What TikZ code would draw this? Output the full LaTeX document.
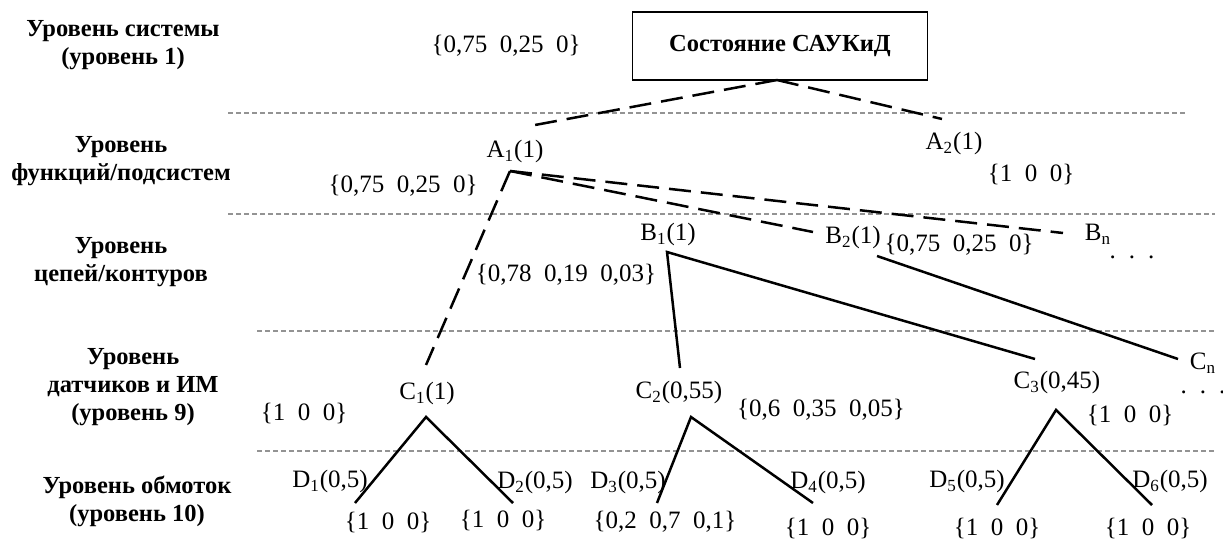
\documentclass[tikz,border=0pt]{standalone}
\usepackage{fontspec}
\setmainfont{Liberation Serif}
\newcommand\lsub[1]{\raisebox{-0.35ex}{\fontsize{17}{17}\selectfont #1}\kern1pt}
\begin{document}
\begin{tikzpicture}[x=1pt,y=-1pt,
  lvl/.style={font=\bfseries\fontsize{24.5}{28}\selectfont, align=center, inner sep=0pt},
  lbl/.style={font=\fontsize{25}{28}\selectfont, inner sep=0pt},
  sepline/.style={gray!85, line width=2pt, dash pattern=on 5pt off 3pt},
  dlink/.style={line width=2.5pt, dash pattern=on 22pt off 10pt},
  slink/.style={line width=2.5pt},
  rootbox/.style={draw, line width=1.2pt, minimum width=295pt, minimum height=68pt, font=\bfseries\fontsize{24.5}{28}\selectfont}
]
\useasboundingbox (0,0) rectangle (1223,548);

% level labels
\node[lvl] (L1) at (123,45) {Уровень системы\\(уровень 1)};
\node[lvl] (L2) at (121,161) {Уровень\\функций/подсистем};
\node[lvl] (L3) at (121,262) {Уровень\\цепей/контуров};
\node[lvl] (L4) at (133,387) {Уровень\\датчиков и ИМ\\(уровень 9)};
\node[lvl] (L5) at (137,501) {Уровень обмоток\\(уровень 10)};

% separators
\coordinate (s1a) at (228,113); \coordinate (s1b) at (1185,113);
\coordinate (s2a) at (228,214); \coordinate (s2b) at (1215,214);
\coordinate (s3a) at (257,331); \coordinate (s3b) at (1215,331);
\coordinate (s4a) at (257,451); \coordinate (s4b) at (1215,451);
\draw[sepline] (s1a) -- (s1b);
\draw[sepline] (s2a) -- (s2b);
\draw[sepline] (s3a) -- (s3b);
\draw[sepline] (s4a) -- (s4b);

% root
\node[rootbox] (root) at (780,46) {Состояние САУКиД};
\node[lbl] (p0) at (506,46) {\{0,75\ \ 0,25\ \ 0\}};

% coordinates of connector ends
\coordinate (s0) at (777,80);
\coordinate (a1t) at (535,125);
\coordinate (a2t) at (942,119);
\coordinate (a1) at (510,171);
\coordinate (c1t) at (426,365);
\coordinate (b2e) at (813,232);
\coordinate (bne) at (1063,233);
\coordinate (b1) at (667,252);
\coordinate (c2t) at (680,368);
\coordinate (c3t) at (1035,359);
\coordinate (b2) at (877,256);
\coordinate (cnt) at (1178,359);
\coordinate (c1) at (426,417);
\coordinate (d1t) at (355,503);
\coordinate (d2t) at (513,503);
\coordinate (c2) at (691,417);
\coordinate (d3t) at (657,503);
\coordinate (d4t) at (813,503);
\coordinate (c3) at (1056,410);
\coordinate (d5t) at (997,505);
\coordinate (d6t) at (1152,505);

% level 2
\node[lbl] (A1) at (515,151) {A\lsub{1}(1)};
\node[lbl] (A2) at (954,143) {A\lsub{2}(1)};
\node[lbl] (pA1) at (403,186) {\{0,75\ \ 0,25\ \ 0\}};
\node[lbl] (pA2) at (1031,174) {\{1\ \ 0\ \ 0\}};

% level 3
\node[lbl] (B1) at (668,234) {B\lsub{1}(1)};
\node[lbl] (B2) at (853,237) {B\lsub{2}(1)};
\node[lbl] (Bn) at (1098,234) {B\lsub{n}};
\node[lbl] (dotsB) at (1132,257) {.\hspace{13pt}.\hspace{13pt}.};
\node[lbl] (pB1) at (566,275) {\{0,78\ \ 0,19\ \ 0,03\}};
\node[lbl] (pB2) at (959,245) {\{0,75\ \ 0,25\ \ 0\}};

% level 4
\node[lbl] (C1) at (427,393) {C\lsub{1}(1)};
\node[lbl] (C2) at (679,392) {C\lsub{2}(0,55)};
\node[lbl] (C3) at (1057,382) {C\lsub{3}(0,45)};
\node[lbl] (Cn) at (1203,363) {C\lsub{n}};
\node[lbl] (dotsC) at (1203,392) {.\hspace{13pt}.\hspace{13pt}.};
\node[lbl] (pC1) at (304,413) {\{1\ \ 0\ \ 0\}};
\node[lbl] (pC2) at (821,410) {\{0,6\ \ 0,35\ \ 0,05\}};
\node[lbl] (pC3) at (1130,415) {\{1\ \ 0\ \ 0\}};

% level 5
\node[lbl] (D1) at (330,481) {D\lsub{1}(0,5)};
\node[lbl] (D2) at (535,482) {D\lsub{2}(0,5)};
\node[lbl] (D3) at (628,482) {D\lsub{3}(0,5)};
\node[lbl] (D4) at (828,482) {D\lsub{4}(0,5)};
\node[lbl] (D5) at (967,481) {D\lsub{5}(0,5)};
\node[lbl] (D6) at (1170,481) {D\lsub{6}(0,5)};
\node[lbl] (pD1) at (388,522) {\{1\ \ 0\ \ 0\}};
\node[lbl] (pD2) at (503,520) {\{1\ \ 0\ \ 0\}};
\node[lbl] (pD3) at (665,522) {\{0,2\ \ 0,7\ \ 0,1\}};
\node[lbl] (pD4) at (828,528) {\{1\ \ 0\ \ 0\}};
\node[lbl] (pD5) at (997,528) {\{1\ \ 0\ \ 0\}};
\node[lbl] (pD6) at (1148,528) {\{1\ \ 0\ \ 0\}};

% connectors
\draw[dlink] (s0) -- (a1t);
\draw[dlink] (s0) -- (a2t);
\draw[dlink] (a1) -- (c1t);
\draw[dlink] (a1) -- (b2e);
\draw[dlink] (a1) -- (bne);
\draw[slink] (c2t) -- (b1) -- (c3t);
\draw[slink] (b2) -- (cnt);
\draw[slink] (d1t) -- (c1) -- (d2t);
\draw[slink] (d3t) -- (c2) -- (d4t);
\draw[slink] (d5t) -- (c3) -- (d6t);
\end{tikzpicture}
\end{document}
